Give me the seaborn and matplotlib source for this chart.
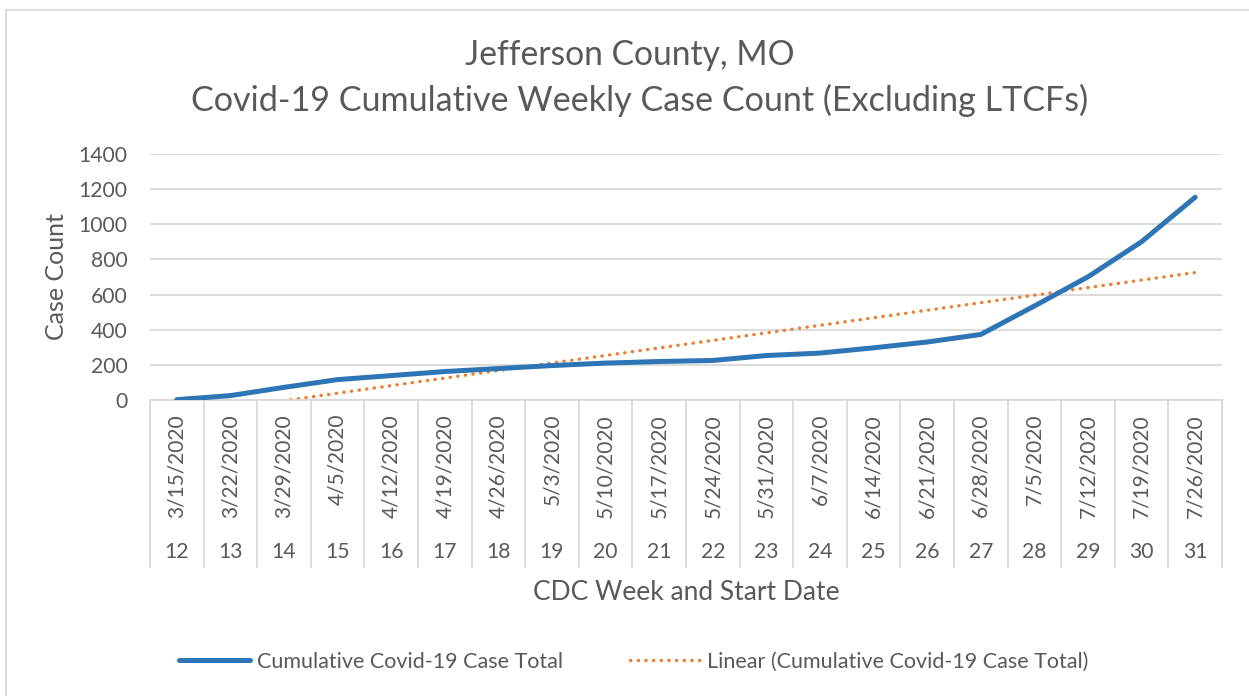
import numpy as np
import pandas as pd
import matplotlib
matplotlib.use("Agg")
import matplotlib.pyplot as plt
from matplotlib.patches import Rectangle
import seaborn as sns

# CDC week numbers and start dates (two-level category axis)
weeks = [12, 13, 14, 15, 16, 17, 18, 19, 20, 21,
         22, 23, 24, 25, 26, 27, 28, 29, 30, 31]
start_dates = ["3/15/2020", "3/22/2020", "3/29/2020", "4/5/2020", "4/12/2020",
               "4/19/2020", "4/26/2020", "5/3/2020", "5/10/2020", "5/17/2020",
               "5/24/2020", "5/31/2020", "6/7/2020", "6/14/2020", "6/21/2020",
               "6/28/2020", "7/5/2020", "7/12/2020", "7/19/2020", "7/26/2020"]
# cumulative case totals
cases = [2, 25, 72, 116, 139, 162, 179, 196, 210, 219,
         225, 253, 267, 297, 330, 373, 535, 701, 901, 1154]

y_ticks = [0, 200, 400, 600, 800, 1000, 1200, 1400]

series_label = "Cumulative Covid-19 Case Total"
trend_label = "Linear (Cumulative Covid-19 Case Total)"

BLUE = "#2E75B6"
ORANGE = "#ED7D31"
GRID = "#D9D9D9"
TEXT = "#595959"

sns.set_style("white")
plt.rcParams["font.family"] = ["Lato", "DejaVu Sans"]

df = pd.DataFrame({"pos": np.arange(len(weeks)), "cases": cases})
# Excel-style linear trendline (least squares over the category index)
slope, intercept = np.polyfit(df["pos"], df["cases"], 1)
df["trend"] = intercept + slope * df["pos"]

W, H = 1249, 696
fig = plt.figure(figsize=(W / 100, H / 100), dpi=100)
ax = fig.add_axes([150 / W, 1 - 400 / H, (1222 - 150) / W, (400 - 154) / H])

sns.lineplot(data=df, x="pos", y="cases", ax=ax, color=BLUE, linewidth=3.6,
             solid_capstyle="round", label=series_label, zorder=3)
sns.lineplot(data=df, x="pos", y="trend", ax=ax, color=ORANGE, linewidth=2.4,
             linestyle=(0, (0.1, 2.2)), dash_capstyle="round",
             label=trend_label, zorder=2)

n = len(weeks)
ax.set_xlim(-0.5, n - 0.5)
ax.set_ylim(y_ticks[0], y_ticks[-1])
ax.set_yticks(y_ticks)
ax.set_yticklabels([str(v) for v in y_ticks])
ax.yaxis.grid(True, color=GRID, linewidth=1.3)
ax.set_axisbelow(True)
for s in ["top", "right", "left"]:
    ax.spines[s].set_visible(False)
ax.spines["bottom"].set_color(GRID)
ax.spines["bottom"].set_linewidth(1.3)

ax.set_xticks(range(n))
ax.set_xticklabels(start_dates, rotation=90)
ax.tick_params(axis="x", length=0, pad=10, labelsize=15, labelcolor=TEXT)
ax.tick_params(axis="y", length=0, pad=16, labelsize=15.2, labelcolor=TEXT)
ax.set_xlabel("")
ax.set_ylabel("")

# category separators for the multi-level axis
sep_bottom = -(567 - 400) / (400 - 154)
for b in np.arange(n + 1) - 0.5:
    ax.plot([b, b], [0, sep_bottom], transform=ax.get_xaxis_transform(),
            color=GRID, linewidth=1.3, clip_on=False)
# outer level: CDC week numbers
week_y = -(552 - 400) / (400 - 154)
for i, wk in enumerate(weeks):
    ax.text(i, week_y, str(wk), transform=ax.get_xaxis_transform(),
            ha="center", va="center", fontsize=15.2, color=TEXT)

fig.text(630 / W, 1 - 55 / H, "Jefferson County, MO", ha="center", va="center",
         fontsize=24.2, color=TEXT)
fig.text(640 / W, 1 - 100 / H,
         "Covid-19 Cumulative Weekly Case Count (Excluding LTCFs)",
         ha="center", va="center", fontsize=24.6, color=TEXT)
fig.text(57 / W, 1 - 277 / H, "Case Count", rotation=90, ha="center",
         va="center", fontsize=18, color=TEXT)
fig.text(686 / W, 1 - 592 / H, "CDC Week and Start Date", ha="center",
         va="center", fontsize=19, color=TEXT)

handles, labels = ax.get_legend_handles_labels()
ax.legend(handles, labels, loc="center", bbox_to_anchor=(634 / W, 1 - 662 / H),
          bbox_transform=fig.transFigure, ncol=2, frameon=False, fontsize=15.5,
          labelcolor=TEXT, handlelength=3.3, handletextpad=0.3,
          columnspacing=3.1)

fig.add_artist(Rectangle((6 / W, -0.1), 1.2, 1.1 - 10 / H,
                         transform=fig.transFigure, fill=False,
                         edgecolor=GRID, linewidth=1.3))

fig.savefig("out.png", dpi=100)
plt.close(fig)
